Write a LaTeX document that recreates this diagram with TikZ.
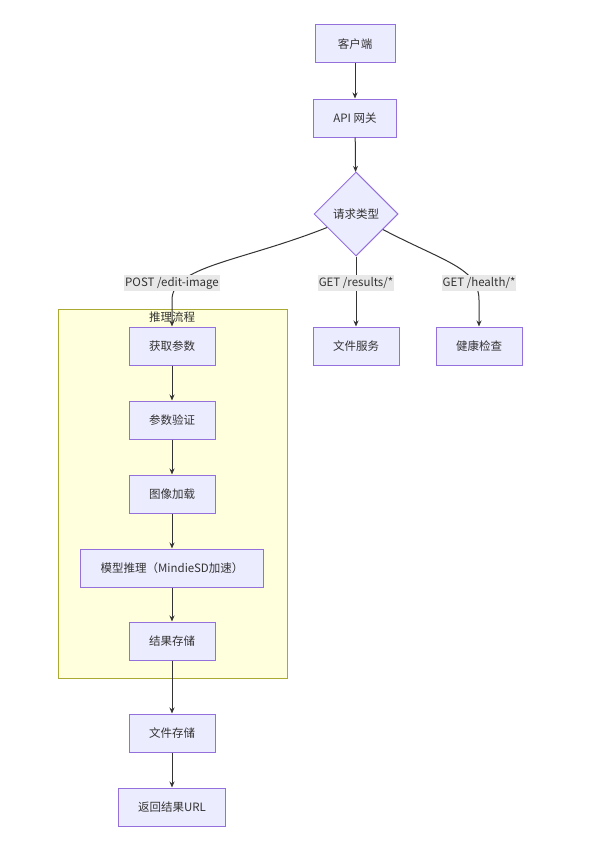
\documentclass[tikz,border=0pt]{standalone}
\usepackage{fontspec}
\setmainfont{Noto Sans CJK SC}
\usetikzlibrary{shapes.geometric,arrows.meta,positioning}
\definecolor{boxfill}{HTML}{ECECFF}
\definecolor{boxline}{HTML}{9370DB}
\definecolor{clfill}{HTML}{FFFFDE}
\definecolor{clline}{HTML}{AAAA33}
\definecolor{ink}{HTML}{333333}
\definecolor{lblfill}{HTML}{E8E8E8}

\begin{document}
\begin{tikzpicture}[x=1pt,y=-1pt,every node/.append style={font=\fontsize{11.5}{13}\selectfont,
                    text=ink},
    flowbox/.style={draw=boxline,fill=boxfill,line width=1pt,minimum height=38pt,
                    minimum width=80pt,inner xsep=20pt},
    choice/.style={diamond,draw=boxline,fill=boxfill,line width=1pt,minimum width=84pt,
                   minimum height=84pt,inner sep=0pt},
    cluster/.style={draw=clline,fill=clfill,line width=1pt,inner sep=0pt},
    link/.style={draw=ink,line width=1pt,-{Stealth[length=6pt,width=5pt]}},
    elabel/.style={fill=lblfill,inner xsep=1pt,inner ysep=2pt}]
    \fill[white] (0,0) rectangle (599,851);
    \node[cluster,minimum width=229pt,minimum height=369pt] (flow) at (172.5,493.5) {};
    \node (flowtitle) at (172,317) {推理流程};

    \node[flowbox] (client)  at (355,44)  {客户端};
    \node[flowbox] (gateway) at (355,118) {API 网关};
    \node[choice]  (kind)    at (356,214) {请求类型};
    \node[flowbox] (fetch)   at (172,346) {获取参数};
    \node[flowbox] (files)   at (356,346) {文件服务};
    \node[flowbox] (health)  at (479,346) {健康检查};
    \node[flowbox] (check)   at (172,420) {参数验证};
    \node[flowbox] (load)    at (172,494) {图像加载};
    \node[flowbox] (infer)   at (172,568) {模型推理（MindieSD加速）};
    \node[flowbox] (save)    at (172,641) {结果存储};
    \node[flowbox] (store)   at (172,733) {文件存储};
    \node[flowbox] (result)  at (172,807) {返回结果URL};

    \draw[link] (client) -- (gateway);
    \draw[link] (gateway) -- (kind);
    \draw[link] (kind.205) .. controls (240,262) and (172,266) .. (172,300) -- (fetch.north);
    \draw[link] (kind) -- (files);
    \draw[link] (kind.330) .. controls (445,262) and (479,268) .. (479,300) -- (health.north);
    \draw[link] (fetch) -- (check);
    \draw[link] (check) -- (load);
    \draw[link] (load) -- (infer);
    \draw[link] (infer) -- (save);
    \draw[link] (save) -- (store);
    \draw[link] (store) -- (result);

    \node[elabel] (postlbl)   at (172,283) {POST /edit-image};
    \node[elabel] (resultlbl) at (356,283) {GET /results/*};
    \node[elabel] (healthlbl) at (479,283) {GET /health/*};
\end{tikzpicture}
\end{document}
